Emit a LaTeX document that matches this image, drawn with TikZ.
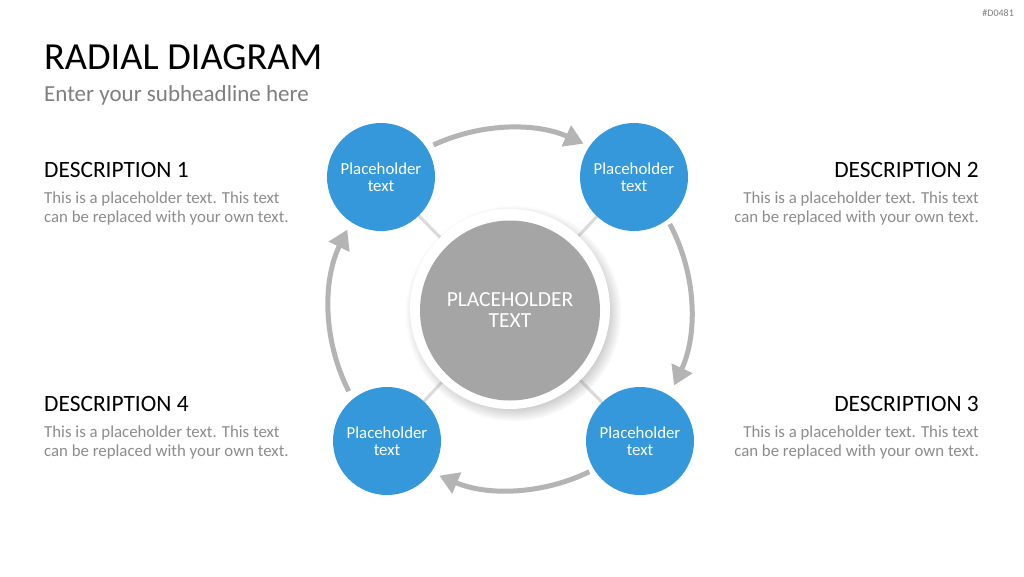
\documentclass[tikz,border=0pt]{standalone}
\usepackage{fontspec}
\setmainfont{Carlito}
\usetikzlibrary{arrows.meta,shadows}
\definecolor{bubbleblue}{HTML}{3498DB}
\definecolor{hubgray}{HTML}{A5A5A5}
\definecolor{arrowgray}{HTML}{B4B4B4}
\definecolor{spokegray}{HTML}{DADADA}
\definecolor{bodygray}{HTML}{8C8C8C}
\definecolor{subgray}{HTML}{7F7F7F}
\tikzset{
  bubble/.style={circle, fill=bubbleblue, minimum size=108pt, inner sep=0pt,
    text=white, align=center, font=\fontsize{16.8}{16.5}\selectfont,
    execute at begin node=\rule{0pt}{16.6pt}},
  flow/.style={draw=arrowgray, line width=5pt, -{Triangle[length=19pt,width=22pt]}},
  spoke/.style={draw=spokegray, line width=3pt},
  heading/.style={inner sep=0pt, font=\fontsize{23.4}{23.4}\selectfont},
  body/.style={inner sep=0pt, text=bodygray, font=\fontsize{16.8}{19}\selectfont}
}
\begin{document}
\begin{tikzpicture}[x=1pt, y=1pt]
  \useasboundingbox[fill=white] (0,0) rectangle (1024,-576);
  \node[anchor=base east, inner sep=0pt, text=subgray, font=\fontsize{10}{10}\selectfont] (tag) at (1014,-16) {\#D0481};
  \node[anchor=base west, inner sep=0pt, font=\fontsize{38.3}{38}\selectfont] (title) at (44,-69) {RADIAL DIAGRAM};
  \node[anchor=base west, inner sep=0pt, text=subgray, font=\fontsize{23}{23}\selectfont] (subtitle) at (44,-101) {Enter your subheadline here};

  \coordinate (hubc) at (510,-309);
  \coordinate (tlc) at (381,-177);
  \coordinate (trc) at (634,-177);
  \coordinate (brc) at (640,-441);
  \coordinate (blc) at (387,-441);

  \draw[spoke] (hubc) -- (tlc);
  \draw[spoke] (hubc) -- (trc);
  \draw[spoke] (hubc) -- (brc);
  \draw[spoke] (hubc) -- (blc);

  \node[bubble] (tl) at (tlc) {Placeholder\\text};
  \node[bubble] (tr) at (trc) {Placeholder\\text};
  \node[bubble] (br) at (brc) {Placeholder\\text};
  \node[bubble] (bl) at (blc) {Placeholder\\text};

  \node[
    circle,
    fill = white,
    minimum size = 200pt,
    circular drop shadow = {shadow xshift=3pt, shadow yshift=-4pt, shadow scale=1.08, opacity=0.45}
  ] (ring) at (hubc) {};
  \node[
    circle,
    fill = hubgray,
    minimum size = 180pt,
    text = white,
    align = center,
    font = \fontsize{21.5}{21}\selectfont
  ] (hub) at ([yshift=-1.5pt]hubc) {PLACEHOLDER\\TEXT};

  \draw[flow] ([shift={(115:181)}]hubc) arc[start angle=115, end angle=66, radius=181];
  \draw[flow] ([shift={(28:181)}]hubc) arc[start angle=28, end angle=-25, radius=181];
  \draw[flow] ([shift={(-64:181)}]hubc) arc[start angle=-64, end angle=-113, radius=181];
  \draw[flow] ([shift={(207:181)}]hubc) arc[start angle=207, end angle=154, radius=181];

  \node[heading, anchor=base west] (d1) at (44,-177) {DESCRIPTION 1};
  \node[body, anchor=north west, align=left] (t1) at (44,-192) {This is a placeholder text. This text\\can be replaced with your own text.};
  \node[heading, anchor=base east] (d2) at (979,-177) {DESCRIPTION 2};
  \node[body, anchor=north east, align=right] (t2) at (979,-192) {This is a placeholder text. This text\\can be replaced with your own text.};
  \node[heading, anchor=base east] (d3) at (979,-411) {DESCRIPTION 3};
  \node[body, anchor=north east, align=right] (t3) at (979,-426) {This is a placeholder text. This text\\can be replaced with your own text.};
  \node[heading, anchor=base west] (d4) at (44,-411) {DESCRIPTION 4};
  \node[body, anchor=north west, align=left] (t4) at (44,-426) {This is a placeholder text. This text\\can be replaced with your own text.};
\end{tikzpicture}
\end{document}
